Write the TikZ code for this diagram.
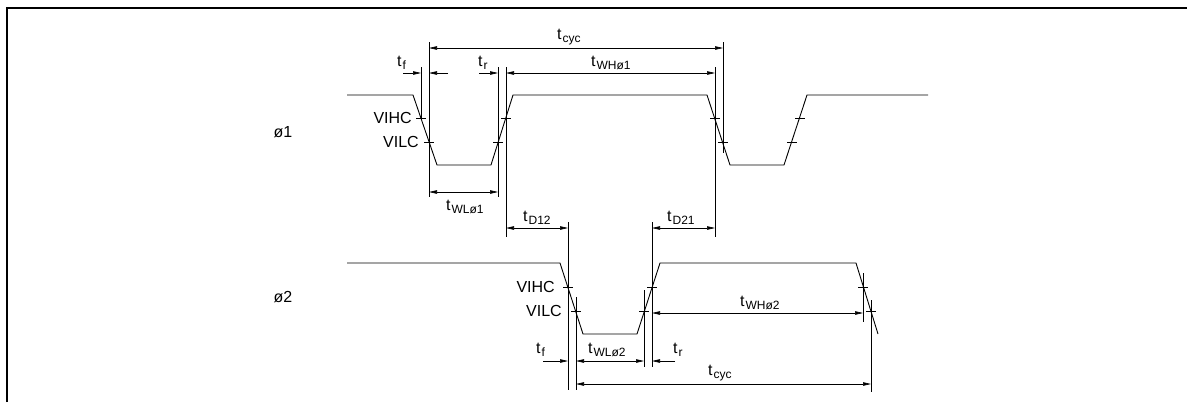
\documentclass[tikz,border=0pt]{standalone}
\usepackage{fontspec}
\setmainfont{Liberation Sans}
\usetikzlibrary{arrows.meta}
\newcommand{\tsub}[1]{t\kern1pt\raisebox{-3.5pt}{\fontsize{12}{13}\selectfont #1}}

\begin{document}
\begin{tikzpicture}[x=1pt,y=-1pt,
    wave/.style={line width=0.9pt},
    ext/.style={line width=0.7pt},
    dim/.style={line width=0.7pt,{Triangle[length=8pt,width=3.5pt]}-{Triangle[length=8pt,width=3.5pt]}},
    pin/.style={line width=0.7pt,-{Triangle[length=8pt,width=3.5pt]}},
    lbl/.style={inner sep=0pt,font=\fontsize{16}{19}\selectfont}]
    \useasboundingbox (0,0) rectangle (1187,402);
    % frame
    \draw[line width=2pt] (7,402) -- (7,8) -- (1187,8);
    % clock waveforms
    \draw[wave] (347,95) -- (413,95) -- (437,165) -- (491,165) -- (513,95) -- (707,95)
        -- (730,165) -- (784,165) -- (807,95) -- (928,95);
    \draw[wave] (347,263) -- (560,263) -- (583,334) -- (637,334) -- (660,263) -- (856,263)
        -- (878,334);
    % level ticks
    \foreach \x/\y in {421/118, 429/142, 498/142, 506/118, 715/118, 723/142, 792/142, 800/118,
        568/287, 576/311, 644/311, 652/287, 863/287, 871/311}
        \draw[ext] (\x-5,\y) -- (\x+5,\y);
    % extension lines
    \coordinate (fA) at (421,67);
    \coordinate (fB) at (429,42);
    \coordinate (rA) at (498,67);
    \coordinate (rB) at (506,67);
    \coordinate (fC) at (715,67);
    \coordinate (fD) at (723,42);
    \coordinate (gA) at (568,222);
    \coordinate (gB) at (576,297);
    \coordinate (sA) at (644,290);
    \coordinate (sB) at (652,222);
    \coordinate (gC) at (863,273);
    \coordinate (gD) at (871,300);
    \draw[ext] (fA) -- (fA |- 0,118);
    \draw[ext] (fB) -- (fB |- 0,197);
    \draw[ext] (rA) -- (rA |- 0,197);
    \draw[ext] (rB) -- (rB |- 0,237);
    \draw[ext] (fC) -- (fC |- 0,237);
    \draw[ext] (fD) -- (fD |- 0,153);
    \draw[ext] (gA) -- (gA |- 0,390);
    \draw[ext] (gB) -- (gB |- 0,390);
    \draw[ext] (sA) -- (sA |- 0,367);
    \draw[ext] (sB) -- (sB |- 0,367);
    \draw[ext] (gC) -- (gC |- 0,322);
    \draw[ext] (gD) -- (gD |- 0,392);
    % free ends of the one-sided arrows
    \coordinate (tfL) at (403,73);
    \coordinate (tfR) at (448,73);
    \coordinate (trL) at (479,73);
    \coordinate (tfL2) at (543,361);
    \coordinate (trR2) at (675,361);
    % dimension arrows
    \draw[dim] (fB |- 0,48) -- (fD |- 0,48);
    \draw[pin] (tfL) -- (fA |- tfL);
    \draw[pin] (tfR) -- (fB |- tfR);
    \draw[pin] (trL) -- (rA |- trL);
    \draw[dim] (rB |- 0,73) -- (fC |- 0,73);
    \draw[dim] (fB |- 0,192) -- (rA |- 0,192);
    \draw[dim] (rB |- 0,228) -- (gA |- 0,228);
    \draw[dim] (sB |- 0,228) -- (fC |- 0,228);
    \draw[pin] (tfL2) -- (gA |- tfL2);
    \draw[dim] (gB |- 0,361) -- (sA |- 0,361);
    \draw[pin] (trR2) -- (sB |- trR2);
    \draw[dim] (sB |- 0,313) -- (gC |- 0,313);
    \draw[dim] (gB |- 0,384) -- (gD |- 0,384);
    % timing labels
    \node[lbl,anchor=base west] (tcyc1) at (557,39) {\tsub{cyc}};
    \node[lbl,anchor=base west] (tf1) at (397,66) {\tsub{f}};
    \node[lbl,anchor=base west] (tr1) at (478,66) {\tsub{r}};
    \node[lbl,anchor=base west] (twh1) at (591,66) {\tsub{WHø1}};
    \node[lbl,anchor=base west] (twl1) at (446,210) {\tsub{WLø1}};
    \node[lbl,anchor=base west] (td12) at (523,221) {\tsub{D12}};
    \node[lbl,anchor=base west] (td21) at (667,221) {\tsub{D21}};
    \node[lbl,anchor=base west] (tf2) at (536,353) {\tsub{f}};
    \node[lbl,anchor=base west] (twl2) at (588,353) {\tsub{WLø2}};
    \node[lbl,anchor=base west] (tr2) at (673,353) {\tsub{r}};
    \node[lbl,anchor=base west] (twh2) at (740,306) {\tsub{WHø2}};
    \node[lbl,anchor=base west] (tcyc2) at (708,375) {\tsub{cyc}};
    % level labels
    \node[lbl,anchor=east] (vih1) at (412,118) {VIHC};
    \node[lbl,anchor=east] (vil1) at (419,142) {VILC};
    \node[lbl,anchor=east] (vih2) at (555,287) {VIHC};
    \node[lbl,anchor=east] (vil2) at (562,311) {VILC};
    % signal names
    \node[lbl] (phi1) at (283,132) {ø1};
    \node[lbl] (phi2) at (283,297) {ø2};
\end{tikzpicture}
\end{document}
